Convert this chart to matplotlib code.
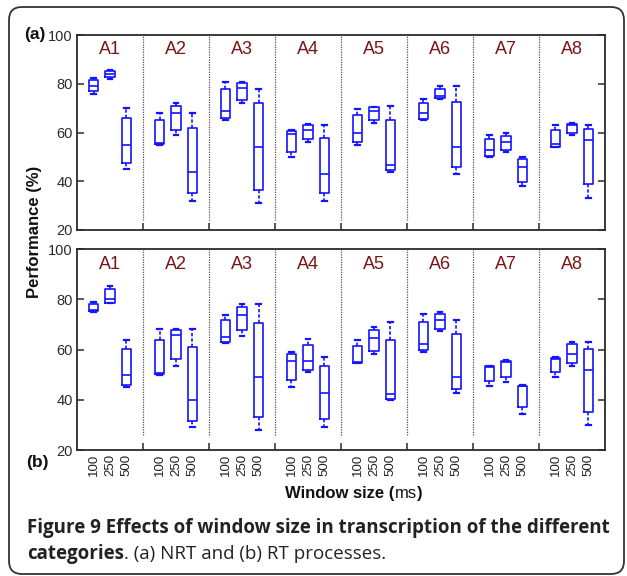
import matplotlib
matplotlib.use("Agg")
import matplotlib.pyplot as plt
from matplotlib.patches import FancyBboxPatch
from matplotlib.transforms import IdentityTransform

# ---------------- data ----------------
categories = ["A1", "A2", "A3", "A4", "A5", "A6", "A7", "A8"]
windows = ["100", "250", "500"]

# (a) NRT  -- order: A1(100,250,500), A2(100,250,500), ...
nrt_whislo = [76, 82, 45,   55, 59, 32,   65, 72, 31,   50, 56, 32,
              55, 64, 44,   65, 74, 43,   50, 52, 38,   54, 59, 33]
nrt_q1     = [77, 83, 47.5, 55.3, 61, 35, 66, 73.5, 36.6, 52, 57.3, 35,
              56, 65.2, 44.5, 65.6, 74.2, 46, 50.5, 53, 39.7, 54.2, 59.7, 39]
nrt_med    = [79, 84, 55,   55.6, 68, 44, 69, 78.2, 54, 59.5, 61.1, 43,
              59.8, 68.9, 46.8, 67.9, 75, 54, 53, 56, 46, 55.5, 63.2, 57]
nrt_q3     = [81.5, 85.3, 66.2, 65, 70.8, 62, 77.8, 80.5, 72, 60.7, 63, 58,
              67.3, 70.4, 65, 72.3, 77.9, 72.7, 57.4, 58.8, 49, 61.1, 63.6, 61.4]
nrt_whishi = [82.6, 85.6, 70, 68, 72, 68, 81, 81, 78, 61, 63.6, 63,
              69.8, 70.6, 71, 74, 79, 79, 59, 60, 50.2, 63, 64, 63]

# (b) RT
rt_whislo = [75, 78.5, 45,  49.7, 53.6, 29,  62.7, 65.3, 28,  45.2, 50.9, 29,
             54.5, 58.1, 40,  59.1, 67.2, 42.8,  45.3, 47.2, 34.4,  49.1, 53.6, 30]
rt_q1     = [75.2, 78.6, 46, 50.2, 56.4, 31.7, 63.1, 67.6, 33.2, 47.9, 51.9, 32.5,
             54.8, 59.6, 40.4, 59.7, 68.3, 44.3, 47.3, 49.1, 37.1, 50.9, 54.7, 35.3]
rt_med    = [75.6, 80, 50,  50.6, 65.7, 40,  64.9, 73.7, 49,  55.6, 55.3, 42.8,
             55.2, 64.5, 42.4, 62, 71.7, 49.1, 53, 55.1, 45.3, 56.4, 58.3, 51.7]
rt_q3     = [78, 83.9, 60.1, 63.6, 67.7, 60.9, 71.6, 77.1, 70.7, 58.3, 61.7, 53.6,
             61.5, 67.9, 63.9, 70.9, 74.3, 66.3, 53.3, 55.6, 45.6, 56.7, 62, 60.1]
rt_whishi = [79, 85.1, 63.6, 68, 68, 68, 73.7, 78.1, 78, 58.9, 64, 57.1,
             63.7, 69.1, 71.1, 74, 75.1, 71.7, 53.6, 55.9, 45.9, 57.1, 62.9, 62.9]

yticks = [20, 40, 60, 80, 100]

# ---------------- style ----------------
BLUE = "#1414ff"
DARKRED = "#7a1515"
SPINE = "#2b2b2b"
plt.rcParams["font.family"] = ["Liberation Sans", "DejaVu Sans"]

W, H = 627, 576
fig = plt.figure(figsize=(W / 100, H / 100), dpi=100)

ax_left = 77 / W
ax_w = (605 - 77) / W
ax_top_a = fig.add_axes([ax_left, 1 - 230 / H, ax_w, (230 - 35.3) / H])
ax_top_b = fig.add_axes([ax_left, 1 - 450 / H, ax_w, (450 - 249) / H])

ng = len(categories)
nw = len(windows)
positions = [4 * g + 1 + w for g in range(ng) for w in range(nw)]
boundaries = [4 * g for g in range(1, ng)]


def draw_panel(ax, lo, q1, med, q3, hi, sep_bottom, show_xlabels):
    stats = []
    for i in range(len(positions)):
        stats.append(dict(whislo=lo[i], q1=q1[i], med=med[i], q3=q3[i],
                          whishi=hi[i], fliers=[]))
    ax.bxp(stats, positions=positions, widths=0.58, capwidths=0.28,
           showfliers=False, manage_ticks=False,
           boxprops=dict(color=BLUE, linewidth=1.2),
           medianprops=dict(color=BLUE, linewidth=1.2),
           whiskerprops=dict(color=BLUE, linewidth=1.2, linestyle=(0, (2, 1.2))),
           capprops=dict(color=BLUE, linewidth=1.6))
    ax.vlines(boundaries, sep_bottom, 100, colors="#555555",
              linestyles=(0, (1, 1)), linewidth=0.9)
    ax.set_xlim(0, 4 * ng)
    ax.set_ylim(20, 100)
    ax.set_yticks(yticks)
    ax.tick_params(axis="y", direction="in", length=5, width=1.1,
                   left=True, right=True, labelsize=10.5, colors=SPINE,
                   pad=3)
    ax.set_xticks(boundaries)
    ax.set_xticklabels([])
    ax.tick_params(axis="x", which="major", direction="in", length=5,
                   width=1.1, colors=SPINE)
    if show_xlabels:
        ax.set_xticks(positions, minor=True)
        ax.set_xticklabels(windows * ng, minor=True, rotation=90,
                           fontsize=9.5)
        ax.tick_params(axis="x", which="minor", length=0, pad=3,
                       colors="#222222")
    for s in ax.spines.values():
        s.set_color(SPINE)
        s.set_linewidth(1.3)
    for g, c in enumerate(categories):
        ax.text(4 * g + 2, 94, c, ha="center", va="center",
                fontsize=13, color=DARKRED)


draw_panel(ax_top_a, nrt_whislo, nrt_q1, nrt_med, nrt_q3, nrt_whishi, 24, False)
draw_panel(ax_top_b, rt_whislo, rt_q1, rt_med, rt_q3, rt_whishi, 26, True)


def px(x, y):
    return x / W, 1 - y / H


fig.text(*px(35, 34), "(a)", fontsize=12.5, fontweight="bold", ha="center",
         va="center", color="#111111")
fig.text(*px(37, 462), "(b)", fontsize=12.5, fontweight="bold", ha="center",
         va="center", color="#111111")
fig.text(*px(35, 232), "Performance (%)", fontsize=12, fontweight="bold",
         rotation=90, ha="center", va="center", color="#111111")

renderer = fig.canvas.get_renderer()


def seq_text(x0, y, parts, **kw):
    """Draw consecutive text parts left to right starting at pixel x0."""
    x = x0
    for s, props in parts:
        t = fig.text(x / W, 1 - y / H, s, ha="left", va="baseline", **kw, **props)
        bb = t.get_window_extent(renderer=renderer)
        x += bb.width
    return x


# x-axis label (centered)
xl_parts = [("Window size (", dict(fontweight="bold")),
            ("ms", dict(fontweight="normal")),
            (")", dict(fontweight="bold"))]
tmp_w = 0
for s, p in xl_parts:
    t = fig.text(0, 0, s, fontsize=12, **p)
    tmp_w += t.get_window_extent(renderer=renderer).width
    t.remove()
seq_text(354 - tmp_w / 2, 498, xl_parts, fontsize=12, color="#111111")

# caption
cap_kw = dict(fontsize=13.5, color="#222222", family=["Open Sans", "DejaVu Sans"])
seq_text(27, 533, [("Figure 9 Effects of window size in transcription of the different",
                    dict(fontweight="bold"))], **cap_kw)
seq_text(27, 559, [("categories", dict(fontweight="bold")),
                   (". (a) NRT and (b) RT processes.", dict(fontweight="normal"))],
         **cap_kw)

# rounded frame
frame = FancyBboxPatch((9, 2), 615, 567, boxstyle="round,pad=0,rounding_size=13",
                       transform=IdentityTransform(), fill=False,
                       edgecolor="#333333", linewidth=1.3)
fig.add_artist(frame)

fig.savefig("out.png", dpi=100)
